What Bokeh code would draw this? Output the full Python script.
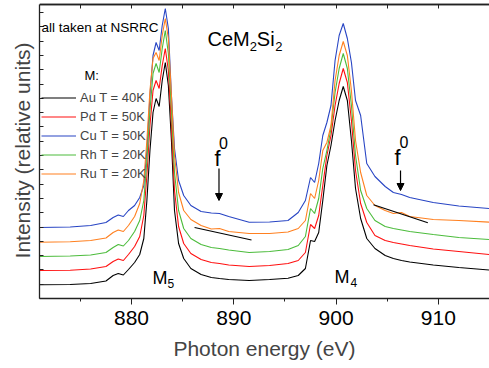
from bokeh.plotting import figure
from bokeh.models import (Range1d, LinearAxis, FixedTicker, SingleIntervalTicker, Span,
                          CustomJSTickFormatter, Legend, LegendItem, Label, Arrow, NormalHead)
from bokeh.embed import file_html
from bokeh.resources import INLINE

# ---------------- data ----------------
energy = [871, 874, 876, 877.5, 878.2, 878.7, 879.2, 879.7, 880.3, 880.8,
          881.2, 881.5, 881.8, 882.1, 882.4, 882.7, 883.0, 883.3, 883.6, 883.9,
          884.2, 884.6, 885.1, 885.8, 886.8, 887.8, 888.6, 889.5, 891.5, 893.5,
          895.3, 896.3, 897.0, 897.5, 897.9, 898.3, 898.7, 899.1, 899.5, 899.9,
          900.3, 900.7, 901.1, 901.5, 901.9, 902.4, 903.0, 903.8, 904.8, 905.6,
          906.4, 907.2, 909.5, 912, 915]

au = [13.7, 14, 15, 17.5, 23, 25, 23.5, 29, 36, 44,
      60, 98, 148, 186, 200, 192, 218, 236, 213, 158,
      88, 55, 40, 30, 24, 21, 20, 19, 18, 19,
      20.3, 23, 30, 58, 57, 66, 98, 133, 153, 178,
      198, 212, 198, 158, 110, 80, 60, 50, 43, 40,
      38, 36.5, 33.5, 31, 28.5]

pd_ = [28, 28.3, 29.5, 32, 37, 39.5, 38, 44, 52, 62,
       83, 123, 173, 208, 218, 210, 233, 250, 228, 173,
       108, 72, 55, 45, 39, 36, 35, 33.5, 32, 33,
       35, 38, 46, 74, 70, 83, 113, 143, 163, 193,
       215, 230, 216, 178, 128, 95, 76, 63, 58, 56,
       54.5, 53, 49.5, 47, 44]

cu = [71, 71.5, 73, 76, 81, 83.5, 82, 88, 93, 101,
      113, 148, 203, 243, 256, 248, 273, 290, 270, 203,
      150, 118, 103, 93, 87, 85.5, 85, 82, 76.3, 76.5,
      78, 86, 98, 121, 116, 135, 163, 176, 193, 238,
      263, 275, 260, 236, 198, 183, 135, 122, 112, 106,
      104, 101, 96, 92.5, 90]

rh = [42, 42.5, 43.5, 46, 51, 54, 52.5, 58, 67, 78,
      98, 138, 188, 225, 235, 226, 250, 268, 245, 188,
      126, 88, 70, 60, 54, 51, 50, 48.5, 46, 47,
      49, 53, 62, 90, 85, 100, 130, 148, 170, 206,
      230, 245, 230, 193, 143, 108, 90, 78, 72, 70,
      68.5, 67, 64, 61, 59]

ru = [56.3, 56.7, 58, 60.5, 66, 68.5, 67, 73, 82, 95,
      118, 158, 208, 240, 246, 238, 263, 280, 260, 203,
      143, 106, 88, 79, 73, 69.5, 70, 67, 65, 65,
      66.5, 70, 78, 105, 100, 118, 148, 156, 173, 218,
      243, 257, 243, 208, 158, 126, 103, 93, 88, 85,
      86, 82, 79, 78, 76.3]

series_labels = ["Au T = 40K", "Pd T = 50K", "Cu T = 50K", "Rh T = 20K", "Ru T = 20K"]
series_values = [au, pd_, cu, rh, ru]
series_colors = ["#000000", "#ff1010", "#2845c4", "#4cbc3c", "#ff8020"]

# f0 tangent lines
tan_left_x = [886.16, 891.73]
tan_left_y = [71, 58.5]
tan_right_x = [903.66, 908.97]
tan_right_y = [93.7, 75.7]

Y_TOP = 294  # top edge of the plot box

FONT = "Liberation Sans"

p = figure(width=489, height=368, output_backend="svg", toolbar_location=None, title=None,
           x_range=Range1d(871, 915), y_range=Range1d(0, 296),
           min_border_left=39, min_border_right=0, min_border_top=2, min_border_bottom=70)
p.grid.visible = False
p.outline_line_color = None
p.background_fill_color = "white"

AX = "#222222"
# bottom axis
xa = p.xaxis[0]
xa.ticker = SingleIntervalTicker(interval=10, num_minor_ticks=2)
xa.axis_label = "Photon energy (eV)"
xa.axis_label_text_font = FONT
xa.axis_label_text_font_style = "normal"
xa.axis_label_text_font_size = "21px"
xa.axis_label_standoff = 9
xa.major_label_text_font = FONT
xa.major_label_text_font_size = "21px"
xa.major_label_text_color = "black"
xa.major_label_standoff = 6
xa.major_tick_out = 6
xa.major_tick_in = 0
xa.minor_tick_out = 3
xa.minor_tick_in = 0
xa.axis_line_color = AX
xa.axis_line_width = 1.3
xa.major_tick_line_color = AX
xa.minor_tick_line_color = AX

# left axis
ya = p.yaxis[0]
ya.ticker = FixedTicker(ticks=[round(14.3 * k, 1) for k in range(21)], minor_ticks=[])
ya.formatter = CustomJSTickFormatter(code="return ''")
ya.major_label_text_font_size = "0px"
ya.major_label_standoff = 0
ya.major_tick_in = 4
ya.major_tick_out = 0
ya.axis_label = "Intensity (relative units)"
ya.axis_label_text_font = FONT
ya.axis_label_text_font_style = "normal"
ya.axis_label_text_font_size = "21px"
ya.axis_label_standoff = 6
ya.axis_line_color = AX
ya.axis_line_width = 1.3
ya.major_tick_line_color = AX
ya.bounds = (0, Y_TOP)

# top edge of the box: a line plus a mirror axis holding the inward ticks
p.add_layout(Span(location=Y_TOP, dimension="width", line_color=AX, line_width=1.4))
top = LinearAxis(ticker=SingleIntervalTicker(interval=5, num_minor_ticks=0),
                 fixed_location=Y_TOP,
                 formatter=CustomJSTickFormatter(code="return ''"),
                 major_label_text_font_size="0px", major_label_standoff=0,
                 major_tick_in=4, major_tick_out=0, minor_tick_in=0, minor_tick_out=0,
                 axis_line_color=AX, axis_line_width=1.3, major_tick_line_color=AX)
p.add_layout(top, "above")

renderers = []
for vals, col in zip(series_values, series_colors):
    r = p.line(energy, vals, line_color=col, line_width=1.1)
    renderers.append(r)

p.line(tan_left_x, tan_left_y, line_color="black", line_width=1.2)
p.line(tan_right_x, tan_right_y, line_color="black", line_width=1.2)

legend = Legend(items=[LegendItem(label=l, renderers=[r]) for l, r in zip(series_labels, renderers)],
                location=(2, 115), orientation="vertical", glyph_width=35, glyph_height=19,
                label_height=19, label_standoff=4, spacing=0, padding=0, margin=0,
                border_line_color=None, background_fill_alpha=0,
                label_text_font=FONT, label_text_font_size="13px")
p.add_layout(legend)

def lab(x, y, t, size, baseline="alphabetic"):
    p.add_layout(Label(x=x, y=y, text=t, text_font=FONT, text_font_size=size,
                       text_color="black", text_baseline=baseline))

lab(871.2, 271, "all taken at NSRRC", "13.5px", "middle")
lab(875.4, 223, "M:", "13px", "middle")
lab(887.43, 260, "CeM", "20px")
lab(891.55, 252, "2", "13px")
lab(892.25, 260, "Si", "20px")
lab(894.05, 252, "2", "13px")
lab(888.11, 140, "f", "22px")
lab(888.55, 156, "0", "16px")
lab(905.71, 141, "f", "22px")
lab(906.2, 157, "0", "16px")
lab(882.05, 21, "M", "18px")
lab(883.52, 15, "5", "12px")
lab(899.84, 22, "M", "18px")
lab(901.41, 16, "4", "12px")

for xs, y0, y1 in [(888.55, 130, 98), (906.3, 128, 108)]:
    p.add_layout(Arrow(end=NormalHead(size=7, fill_color="black", line_color="black", line_width=1),
                       x_start=xs, y_start=y0, x_end=xs, y_end=y1,
                       line_color="black", line_width=1.2))

open("out.html", "w").write(file_html(p, INLINE))
